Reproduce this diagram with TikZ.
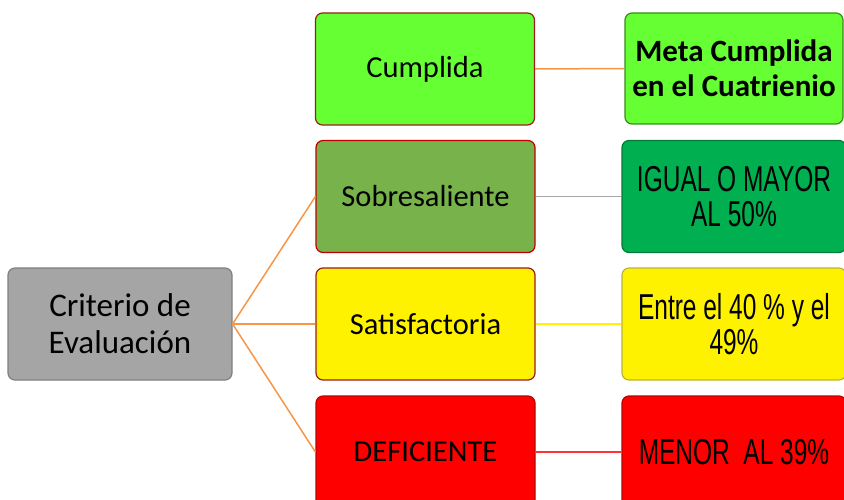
\documentclass[tikz,border=0pt]{standalone}
\usepackage{fontspec}
\setmainfont{Carlito}
\newfontfamily\narrowfont{Liberation Sans}[FakeStretch=0.68]
\definecolor{critgray}{HTML}{A5A5A5}
\definecolor{critedge}{HTML}{7F7F7F}
\definecolor{lime}{HTML}{66FF33}
\definecolor{olivegreen}{HTML}{77B24A}
\definecolor{darkgreen}{HTML}{00B050}
\definecolor{brick}{HTML}{9B1C1C}
\definecolor{lineorange}{HTML}{F79646}
\definecolor{linegray}{HTML}{A6A6A6}
\begin{document}
\begin{tikzpicture}[x=1pt,y=-1pt,
    box/.style={draw,line width=1.2pt,rounded corners=7pt,align=center,inner sep=0pt},
    midbox/.style={box,minimum width=219pt,minimum height=112pt,font=\fontsize{30.5}{35}\selectfont},
    rightbox/.style={box,minimum width=224pt,minimum height=112pt,font=\narrowfont\fontsize{36}{35}\selectfont},
    link/.style={line width=1.5pt}]
    \useasboundingbox (0,0) rectangle (844,500);
    \clip (0,0) rectangle (844,500);
    % left box
    \node[box,fill=critgray,draw=critedge,minimum width=224pt,minimum height=112pt,
        font=\fontsize{33}{37}\selectfont] (crit) at (120,324) {Criterio de\\Evaluación};
    % middle column
    \node[midbox,fill=lime,draw=brick] (cum) at (425,69) {Cumplida};
    \node[midbox,fill=olivegreen,draw=red!75!black] (sob) at (425.5,196.5) {Sobresaliente};
    \node[midbox,fill=yellow,draw=brick] (sat) at (425.5,324) {Satisfactoria};
    \node[midbox,fill=red,draw=red!75!black] (def) at (425.5,452) {DEFICIENTE};
    % right column
    \node[box,fill=lime,draw=lime!55!black,minimum width=218pt,minimum height=111pt,
        font=\bfseries\fontsize{31}{35}\selectfont] (meta) at (734,68.5) {Meta Cumplida\\en el Cuatrienio};
    \node[rightbox,fill=darkgreen,draw=darkgreen!70!black] (igual) at (734,196.5) {IGUAL O MAYOR\\AL 50\%};
    \node[rightbox,fill=yellow,draw=yellow!70!black] (entre) at (734,324) {Entre el 40 \% y el\\49\%};
    \node[rightbox,fill=red,draw=red!75!black] (menor) at (734,452) {MENOR\ \ AL 39\%};
    % connectors
    \coordinate (j) at (crit.east);
    \draw[link,lineorange] (j) -- (sob.west);
    \draw[link,lineorange] (j) -- (sat.west);
    \draw[link,lineorange] (j) -- (def.west);
    \draw[link,lineorange] (cum) -- (meta);
    \draw[link,linegray] (sob) -- (igual);
    \draw[link,yellow] (sat) -- (entre);
    \draw[link,red!80] (def) -- (menor);
\end{tikzpicture}
\end{document}
